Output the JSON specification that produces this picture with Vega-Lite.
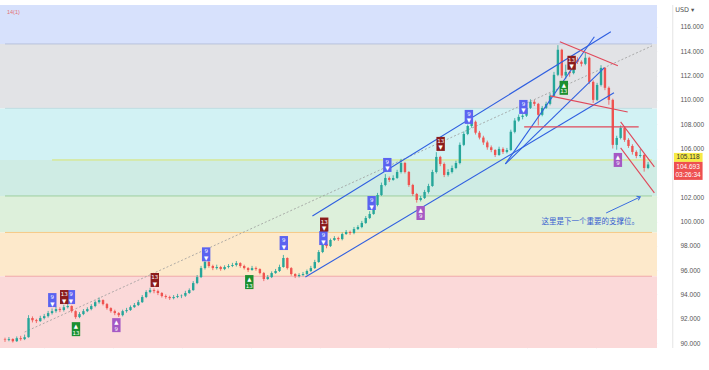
{
  "$schema": "https://vega.github.io/schema/vega-lite/v6.json",
  "width": 657,
  "height": 343,
  "autosize": "none",
  "padding": {"left": 0, "top": 5, "right": 52, "bottom": 22},
  "background": "white",
  "config": {"view": {"stroke": null}, "font": "Liberation Sans", "axis": {"labelOverlap": false, "labelBound": false}},
  "resolve": {"scale": {"color": "independent"}},
  "datasets": {
    "bands": [
      {"lo": 114.6, "hi": 117.8, "z": "a"},
      {"lo": 109.3, "hi": 114.6, "z": "b"},
      {"lo": 105.06, "hi": 109.3, "z": "c"},
      {"lo": 102.1, "hi": 105.06, "z": "d"},
      {"lo": 99.1, "hi": 102.1, "z": "e"},
      {"lo": 95.5, "hi": 99.1, "z": "f"},
      {"lo": 89.6, "hi": 95.5, "z": "g"}
    ],
    "fib": [
      {"v": 114.6, "z": "a", "s": 0},
      {"v": 109.3, "z": "b", "s": 0},
      {"v": 105.06, "z": "c", "s": 12},
      {"v": 102.1, "z": "d", "s": 0},
      {"v": 99.1, "z": "e", "s": 0},
      {"v": 95.5, "z": "f", "s": 0}
    ],
    "candles": [
      {"t":0,"o":90.30,"h":90.45,"l":90.10,"c":90.25},
      {"t":1,"o":90.25,"h":90.50,"l":90.15,"c":90.33},
      {"t":2,"o":90.33,"h":90.40,"l":90.05,"c":90.16},
      {"t":3,"o":90.16,"h":90.55,"l":90.10,"c":90.41},
      {"t":4,"o":90.41,"h":90.60,"l":90.20,"c":90.33},
      {"t":5,"o":90.33,"h":90.70,"l":90.25,"c":90.49},
      {"t":6,"o":90.49,"h":92.30,"l":90.45,"c":92.06},
      {"t":7,"o":92.06,"h":92.20,"l":91.70,"c":91.89},
      {"t":8,"o":91.89,"h":92.00,"l":91.65,"c":91.81},
      {"t":9,"o":91.81,"h":92.25,"l":91.75,"c":92.06},
      {"t":10,"o":92.06,"h":92.40,"l":91.95,"c":92.22},
      {"t":11,"o":92.22,"h":92.65,"l":92.10,"c":92.47},
      {"t":12,"o":92.47,"h":92.85,"l":92.35,"c":92.63},
      {"t":13,"o":92.63,"h":93.00,"l":92.50,"c":92.80},
      {"t":14,"o":92.80,"h":92.95,"l":92.55,"c":92.72},
      {"t":15,"o":92.72,"h":93.15,"l":92.60,"c":92.96},
      {"t":16,"o":92.96,"h":93.25,"l":92.85,"c":93.05},
      {"t":17,"o":93.05,"h":93.10,"l":92.50,"c":92.63},
      {"t":18,"o":92.63,"h":92.70,"l":92.00,"c":92.14},
      {"t":19,"o":92.14,"h":92.55,"l":92.05,"c":92.39},
      {"t":20,"o":92.39,"h":92.80,"l":92.30,"c":92.63},
      {"t":21,"o":92.63,"h":92.95,"l":92.55,"c":92.80},
      {"t":22,"o":92.80,"h":93.20,"l":92.70,"c":93.05},
      {"t":23,"o":93.05,"h":93.50,"l":92.95,"c":93.37},
      {"t":24,"o":93.37,"h":93.75,"l":93.25,"c":93.54},
      {"t":25,"o":93.54,"h":93.60,"l":93.10,"c":93.21},
      {"t":26,"o":93.21,"h":93.30,"l":92.75,"c":92.88},
      {"t":27,"o":92.88,"h":92.95,"l":92.50,"c":92.63},
      {"t":28,"o":92.63,"h":92.75,"l":92.30,"c":92.47},
      {"t":29,"o":92.47,"h":92.55,"l":92.15,"c":92.30},
      {"t":30,"o":92.30,"h":92.75,"l":92.20,"c":92.63},
      {"t":31,"o":92.63,"h":92.90,"l":92.50,"c":92.72},
      {"t":32,"o":92.72,"h":93.10,"l":92.65,"c":92.96},
      {"t":33,"o":92.96,"h":93.30,"l":92.90,"c":93.13},
      {"t":34,"o":93.13,"h":93.55,"l":93.05,"c":93.37},
      {"t":35,"o":93.37,"h":93.95,"l":93.30,"c":93.79},
      {"t":36,"o":93.79,"h":94.35,"l":93.70,"c":94.20},
      {"t":37,"o":94.20,"h":94.55,"l":94.10,"c":94.36},
      {"t":38,"o":94.36,"h":94.50,"l":94.10,"c":94.28},
      {"t":39,"o":94.28,"h":94.40,"l":93.95,"c":94.12},
      {"t":40,"o":94.12,"h":94.20,"l":93.75,"c":93.87},
      {"t":41,"o":93.87,"h":94.00,"l":93.65,"c":93.79},
      {"t":42,"o":93.79,"h":93.90,"l":93.55,"c":93.70},
      {"t":43,"o":93.70,"h":93.95,"l":93.60,"c":93.79},
      {"t":44,"o":93.79,"h":94.05,"l":93.70,"c":93.87},
      {"t":45,"o":93.87,"h":94.00,"l":93.70,"c":93.90},
      {"t":46,"o":93.90,"h":94.30,"l":93.80,"c":94.12},
      {"t":47,"o":94.12,"h":94.50,"l":94.05,"c":94.36},
      {"t":48,"o":94.36,"h":95.10,"l":94.30,"c":94.94},
      {"t":49,"o":94.94,"h":95.60,"l":94.85,"c":95.43},
      {"t":50,"o":95.43,"h":96.35,"l":95.35,"c":96.17},
      {"t":51,"o":96.17,"h":96.95,"l":96.05,"c":96.67},
      {"t":52,"o":96.67,"h":96.75,"l":96.20,"c":96.34},
      {"t":53,"o":96.34,"h":96.45,"l":96.00,"c":96.17},
      {"t":54,"o":96.17,"h":96.45,"l":96.05,"c":96.26},
      {"t":55,"o":96.26,"h":96.35,"l":95.95,"c":96.09},
      {"t":56,"o":96.09,"h":96.40,"l":96.00,"c":96.26},
      {"t":57,"o":96.26,"h":96.50,"l":96.15,"c":96.34},
      {"t":58,"o":96.34,"h":96.60,"l":96.25,"c":96.42},
      {"t":59,"o":96.42,"h":96.75,"l":96.30,"c":96.58},
      {"t":60,"o":96.58,"h":96.65,"l":96.20,"c":96.34},
      {"t":61,"o":96.34,"h":96.45,"l":96.05,"c":96.17},
      {"t":62,"o":96.17,"h":96.25,"l":95.85,"c":96.01},
      {"t":63,"o":96.01,"h":96.35,"l":95.95,"c":96.17},
      {"t":64,"o":96.17,"h":96.30,"l":95.95,"c":96.09},
      {"t":65,"o":96.09,"h":96.15,"l":95.65,"c":95.76},
      {"t":66,"o":95.76,"h":95.85,"l":95.10,"c":95.27},
      {"t":67,"o":95.27,"h":95.60,"l":95.20,"c":95.43},
      {"t":68,"o":95.43,"h":95.90,"l":95.35,"c":95.76},
      {"t":69,"o":95.76,"h":96.10,"l":95.70,"c":95.93},
      {"t":70,"o":95.93,"h":96.45,"l":95.85,"c":96.26},
      {"t":71,"o":96.26,"h":97.25,"l":96.20,"c":97.00},
      {"t":72,"o":97.00,"h":97.05,"l":96.05,"c":96.17},
      {"t":73,"o":96.17,"h":96.25,"l":95.55,"c":95.68},
      {"t":74,"o":95.68,"h":95.75,"l":95.35,"c":95.51},
      {"t":75,"o":95.51,"h":95.75,"l":95.40,"c":95.60},
      {"t":76,"o":95.60,"h":95.85,"l":95.50,"c":95.68},
      {"t":77,"o":95.68,"h":96.05,"l":95.60,"c":95.93},
      {"t":78,"o":95.93,"h":96.35,"l":95.85,"c":96.17},
      {"t":79,"o":96.17,"h":96.85,"l":96.10,"c":96.67},
      {"t":80,"o":96.67,"h":97.65,"l":96.60,"c":97.49},
      {"t":81,"o":97.49,"h":98.30,"l":97.40,"c":98.15},
      {"t":82,"o":98.15,"h":98.25,"l":97.80,"c":97.98},
      {"t":83,"o":97.98,"h":98.60,"l":97.90,"c":98.48},
      {"t":84,"o":98.48,"h":98.80,"l":98.40,"c":98.64},
      {"t":85,"o":98.64,"h":98.75,"l":98.40,"c":98.55},
      {"t":86,"o":98.55,"h":99.10,"l":98.45,"c":98.97},
      {"t":87,"o":98.97,"h":99.30,"l":98.90,"c":99.14},
      {"t":88,"o":99.14,"h":99.25,"l":98.90,"c":99.05},
      {"t":89,"o":99.05,"h":99.55,"l":98.95,"c":99.38},
      {"t":90,"o":99.38,"h":99.70,"l":99.30,"c":99.55},
      {"t":91,"o":99.55,"h":100.05,"l":99.45,"c":99.88},
      {"t":92,"o":99.88,"h":100.45,"l":99.80,"c":100.29},
      {"t":93,"o":100.29,"h":100.85,"l":100.20,"c":100.62},
      {"t":94,"o":100.62,"h":101.55,"l":100.55,"c":101.36},
      {"t":95,"o":101.36,"h":102.35,"l":101.25,"c":102.18},
      {"t":96,"o":102.18,"h":103.20,"l":102.10,"c":103.00},
      {"t":97,"o":103.00,"h":103.90,"l":102.90,"c":103.58},
      {"t":98,"o":103.58,"h":103.70,"l":103.25,"c":103.42},
      {"t":99,"o":103.42,"h":103.80,"l":103.35,"c":103.58},
      {"t":100,"o":103.58,"h":104.25,"l":103.50,"c":104.07},
      {"t":101,"o":104.07,"h":105.15,"l":103.95,"c":104.81},
      {"t":102,"o":104.81,"h":104.90,"l":103.95,"c":104.07},
      {"t":103,"o":104.07,"h":104.15,"l":102.85,"c":103.00},
      {"t":104,"o":103.00,"h":103.10,"l":102.10,"c":102.26},
      {"t":105,"o":102.26,"h":102.35,"l":101.55,"c":101.77},
      {"t":106,"o":101.77,"h":102.10,"l":101.65,"c":101.93},
      {"t":107,"o":101.93,"h":102.60,"l":101.85,"c":102.43},
      {"t":108,"o":102.43,"h":103.10,"l":102.30,"c":102.92},
      {"t":109,"o":102.92,"h":104.25,"l":102.85,"c":104.07},
      {"t":110,"o":104.07,"h":105.70,"l":103.95,"c":105.31},
      {"t":111,"o":105.31,"h":105.40,"l":104.55,"c":104.73},
      {"t":112,"o":104.73,"h":104.85,"l":103.65,"c":103.83},
      {"t":113,"o":103.83,"h":104.30,"l":103.70,"c":104.07},
      {"t":114,"o":104.07,"h":104.60,"l":103.95,"c":104.40},
      {"t":115,"o":104.40,"h":105.00,"l":104.30,"c":104.81},
      {"t":116,"o":104.81,"h":106.50,"l":104.70,"c":106.30},
      {"t":117,"o":106.30,"h":107.40,"l":106.20,"c":107.20},
      {"t":118,"o":107.20,"h":107.98,"l":107.10,"c":107.85},
      {"t":119,"o":107.85,"h":108.75,"l":107.70,"c":108.20},
      {"t":120,"o":108.20,"h":108.30,"l":107.15,"c":107.30},
      {"t":121,"o":107.30,"h":107.45,"l":106.75,"c":106.90},
      {"t":122,"o":106.90,"h":107.05,"l":106.30,"c":106.50},
      {"t":123,"o":106.50,"h":106.65,"l":105.90,"c":106.10},
      {"t":124,"o":106.10,"h":106.25,"l":105.70,"c":105.88},
      {"t":125,"o":105.88,"h":105.95,"l":105.30,"c":105.47},
      {"t":126,"o":105.47,"h":106.15,"l":105.40,"c":105.97},
      {"t":127,"o":105.97,"h":106.10,"l":105.55,"c":105.72},
      {"t":128,"o":105.72,"h":106.05,"l":105.60,"c":105.88},
      {"t":129,"o":105.88,"h":107.55,"l":105.80,"c":107.37},
      {"t":130,"o":107.37,"h":108.50,"l":107.25,"c":108.30},
      {"t":131,"o":108.30,"h":108.80,"l":108.20,"c":108.60},
      {"t":132,"o":108.60,"h":108.82,"l":108.40,"c":108.70},
      {"t":133,"o":108.70,"h":109.55,"l":108.60,"c":109.34},
      {"t":134,"o":109.34,"h":110.05,"l":109.25,"c":109.84},
      {"t":135,"o":109.84,"h":110.00,"l":109.50,"c":109.67},
      {"t":136,"o":109.67,"h":109.75,"l":107.90,"c":108.77},
      {"t":137,"o":108.77,"h":109.50,"l":108.65,"c":109.34},
      {"t":138,"o":109.34,"h":109.85,"l":109.25,"c":109.67},
      {"t":139,"o":109.67,"h":110.55,"l":109.55,"c":110.33},
      {"t":140,"o":110.33,"h":112.30,"l":110.25,"c":112.06},
      {"t":141,"o":112.06,"h":114.50,"l":111.95,"c":114.12},
      {"t":142,"o":114.12,"h":114.20,"l":111.80,"c":112.00},
      {"t":143,"o":112.00,"h":112.90,"l":111.70,"c":112.30},
      {"t":144,"o":112.30,"h":112.40,"l":111.90,"c":112.20},
      {"t":145,"o":112.20,"h":113.50,"l":112.10,"c":113.30},
      {"t":146,"o":113.30,"h":113.50,"l":112.95,"c":113.13},
      {"t":147,"o":113.13,"h":113.25,"l":112.75,"c":112.96},
      {"t":148,"o":112.96,"h":113.90,"l":112.85,"c":113.46},
      {"t":149,"o":113.46,"h":113.55,"l":111.30,"c":111.48},
      {"t":150,"o":111.48,"h":111.60,"l":109.75,"c":110.00},
      {"t":151,"o":110.00,"h":111.40,"l":109.90,"c":111.23},
      {"t":152,"o":111.23,"h":112.85,"l":111.10,"c":112.63},
      {"t":153,"o":112.63,"h":112.70,"l":110.80,"c":110.99},
      {"t":154,"o":110.99,"h":111.10,"l":109.60,"c":110.00},
      {"t":155,"o":110.00,"h":110.10,"l":106.00,"c":106.30},
      {"t":156,"o":106.30,"h":107.05,"l":105.90,"c":106.87},
      {"t":157,"o":106.87,"h":107.90,"l":106.75,"c":107.70},
      {"t":158,"o":107.70,"h":107.80,"l":106.55,"c":106.71},
      {"t":159,"o":106.71,"h":106.85,"l":106.05,"c":106.21},
      {"t":160,"o":106.21,"h":106.35,"l":105.50,"c":105.72},
      {"t":161,"o":105.72,"h":105.85,"l":105.20,"c":105.39},
      {"t":162,"o":105.39,"h":105.95,"l":105.25,"c":105.47},
      {"t":163,"o":105.47,"h":105.55,"l":104.10,"c":104.40},
      {"t":164,"o":104.40,"h":104.90,"l":104.30,"c":104.69}
    ],
    "markers": [
      {"t": 12.06, "v": 93.54, "k": "b9", "a": "9", "b": "▼"},
      {"t": 16.8, "v": 93.79, "k": "b9", "a": "9", "b": "▼"},
      {"t": 51.3, "v": 97.3, "k": "b9", "a": "9", "b": "▼"},
      {"t": 71.1, "v": 98.23, "k": "b9", "a": "9", "b": "▼"},
      {"t": 81.2, "v": 98.64, "k": "b9", "a": "9", "b": "▼"},
      {"t": 93.5, "v": 101.52, "k": "b9", "a": "9", "b": "▼"},
      {"t": 97.5, "v": 104.65, "k": "b9", "a": "9", "b": "▼"},
      {"t": 118.3, "v": 108.6, "k": "b9", "a": "9", "b": "▼"},
      {"t": 132.2, "v": 109.42, "k": "b9", "a": "9", "b": "▼"},
      {"t": 15.1, "v": 93.79, "k": "r13", "a": "13", "b": "▼"},
      {"t": 38.2, "v": 95.19, "k": "r13", "a": "13", "b": "▼"},
      {"t": 81.4, "v": 99.75, "k": "r13", "a": "13", "b": "▼"},
      {"t": 111.1, "v": 106.38, "k": "r13", "a": "13", "b": "▼"},
      {"t": 144.5, "v": 113.05, "k": "r13", "a": "13", "b": "▼"},
      {"t": 18.1, "v": 91.15, "k": "g13", "a": "▲", "b": "13"},
      {"t": 62.3, "v": 95.02, "k": "g13", "a": "▲", "b": "13"},
      {"t": 142.5, "v": 110.99, "k": "g13", "a": "▲", "b": "13"},
      {"t": 28.4, "v": 91.48, "k": "p9", "a": "▲", "b": "9"},
      {"t": 106, "v": 100.7, "k": "p9", "a": "▲", "b": "9"},
      {"t": 156.3, "v": 105.06, "k": "p9", "a": "▲", "b": "9"}
    ],
    "blue": [
      {"id": "u", "t": 78.4, "v": 100.45}, {"id": "u", "t": 154.5, "v": 115.6},
      {"id": "d", "t": 76.6, "v": 95.43}, {"id": "d", "t": 155.3, "v": 110.58},
      {"id": "s1", "t": 127.6, "v": 104.73}, {"id": "s1", "t": 150.3, "v": 115.19},
      {"id": "s2", "t": 127.6, "v": 104.73}, {"id": "s2", "t": 152.8, "v": 112.63}
    ],
    "red": [
      {"id": "r1", "t": 141.5, "v": 114.77}, {"id": "r1", "t": 156.3, "v": 112.8},
      {"id": "r2", "t": 139, "v": 110.33}, {"id": "r2", "t": 158.8, "v": 109.01},
      {"id": "r3", "t": 132.4, "v": 107.78}, {"id": "r3", "t": 161.6, "v": 107.78},
      {"id": "r4", "t": 157, "v": 108.19}, {"id": "r4", "t": 165.6, "v": 104.49},
      {"id": "r5", "t": 157, "v": 106.05}, {"id": "r5", "t": 165.6, "v": 102.35}
    ],
    "trend": [
      {"t": 5, "v": 90.91}, {"t": 165, "v": 114.44}
    ],
    "arrow": [
      {"t": 153.3, "v": 100.7}, {"t": 162, "v": 102.02}
    ],
    "arrowhead": [{"t": 162, "v": 102.02}],
    "note": [{"t": 136.8, "v": 100.0, "s": "这里是下一个重要的支撑位。"}],
    "boxes": [
      {"x1": 170.6, "x2": 177.9, "lo": 104.9, "hi": 105.64, "k": "y"},
      {"x1": 170.6, "x2": 177.9, "lo": 103.42, "hi": 104.9, "k": "r"}
    ],
    "boxtext": [
      {"t": 174.2, "v": 105.27, "s": "105.118", "k": "y"},
      {"t": 174.2, "v": 104.5, "s": "104.693", "k": "r"},
      {"t": 174.2, "v": 103.85, "s": "03:26:34", "k": "r"}
    ],
    "sep": [{"t": 170.3}],
    "usd": [{"t": 170.9, "v": 117.35, "s": "USD ▾"}],
    "tl": [{"t": 0.5, "v": 117.2, "s": "14(1)"}]
  },
  "layer": [
    {
      "data": {"name": "bands"},
      "mark": {"type": "rect"},
      "encoding": {
        "y": {"field": "lo", "type": "quantitative", "scale": {"domain": [89.6, 117.8], "nice": false, "zero": false},
          "axis": {"orient": "right", "values": [90, 92, 94, 96, 98, 100, 102, 106, 108, 110, 112, 114, 116], "tickCount": 30, "format": ".3f", "title": null, "domain": false, "ticks": false, "labelPadding": 23, "labelFontSize": 6.5, "labelColor": "#555555", "labelAlign": "left", "labelOverlap": false, "labelBound": false, "grid": true, "gridColor": "#8090a0", "gridOpacity": 0.08}},
        "y2": {"field": "hi"},
        "color": {"field": "z", "type": "nominal", "legend": null,
          "scale": {"domain": ["a", "b", "c", "d", "e", "f", "g"], "range": ["#d7e1fc", "#e2e3e6", "#d2f2f4", "#cfece4", "#ddf0db", "#fde9cb", "#fbd9d9"]}}
      }
    },
    {
      "data": {"name": "fib"},
      "mark": {"type": "rule", "strokeWidth": 1},
      "encoding": {
        "y": {"field": "v", "type": "quantitative", "scale": {"domain": [89.6, 117.8], "nice": false, "zero": false}, "title": null},
        "x": {"field": "s", "type": "quantitative", "scale": {"domain": [0, 165], "nice": false, "zero": false},
          "axis": {"values": [10, 27.6, 45.2, 62.8, 80.4, 98, 115.6, 133.2, 150.8], "tickCount": 30, "labels": false, "ticks": false, "domain": false, "title": null, "grid": true, "gridColor": "#7080a0", "gridOpacity": 0.1}},
        "x2": {"datum": 165},
        "color": {"field": "z", "type": "nominal", "legend": null,
          "scale": {"domain": ["a", "b", "c", "d", "e", "f"], "range": ["#b9c2dc", "#bfdde2", "#d9e46e", "#9fcf9f", "#f6c885", "#f1a8a8"]}}
      }
    },
    {
      "data": {"name": "trend"},
      "mark": {"type": "line", "color": "#9a9a9a", "strokeWidth": 0.8, "strokeDash": [2, 2]},
      "encoding": {
        "x": {"field": "t", "type": "quantitative", "scale": {"domain": [0, 165]}, "title": null},
        "y": {"field": "v", "type": "quantitative", "scale": {"domain": [89.6, 117.8]}, "title": null}
      }
    },
    {
      "data": {"name": "candles"},
      "layer": [
        {
          "mark": {"type": "rule", "strokeWidth": 0.8},
          "encoding": {
            "x": {"field": "t", "type": "quantitative", "scale": {"domain": [0, 165]}, "title": null},
            "y": {"field": "l", "type": "quantitative", "scale": {"domain": [89.6, 117.8]}, "title": null},
            "y2": {"field": "h"},
            "color": {"condition": {"test": "datum.o <= datum.c", "value": "#26a69a"}, "value": "#ef5350"}
          }
        },
        {
          "mark": {"type": "bar", "size": 2.4},
          "encoding": {
            "x": {"field": "t", "type": "quantitative", "scale": {"domain": [0, 165]}, "title": null},
            "y": {"field": "o", "type": "quantitative", "scale": {"domain": [89.6, 117.8]}, "title": null},
            "y2": {"field": "c"},
            "color": {"condition": {"test": "datum.o <= datum.c", "value": "#26a69a"}, "value": "#ef5350"}
          }
        }
      ]
    },
    {
      "data": {"name": "blue"},
      "mark": {"type": "line", "color": "#2f5fe0", "strokeWidth": 1.1},
      "encoding": {
        "x": {"field": "t", "type": "quantitative", "scale": {"domain": [0, 165]}, "title": null},
        "y": {"field": "v", "type": "quantitative", "scale": {"domain": [89.6, 117.8]}, "title": null},
        "detail": {"field": "id"}
      }
    },
    {
      "data": {"name": "red"},
      "mark": {"type": "line", "color": "#e0485a", "strokeWidth": 1.1},
      "encoding": {
        "x": {"field": "t", "type": "quantitative", "scale": {"domain": [0, 165]}, "title": null},
        "y": {"field": "v", "type": "quantitative", "scale": {"domain": [89.6, 117.8]}, "title": null},
        "detail": {"field": "id"}
      }
    },
    {
      "data": {"name": "arrow"},
      "mark": {"type": "line", "color": "#3a6de0", "strokeWidth": 1},
      "encoding": {
        "x": {"field": "t", "type": "quantitative", "scale": {"domain": [0, 165]}, "title": null},
        "y": {"field": "v", "type": "quantitative", "scale": {"domain": [89.6, 117.8]}, "title": null}
      }
    },
    {
      "data": {"name": "arrowhead"},
      "mark": {"type": "point", "shape": "M-1,-0.7L0,0L-1,0.7", "filled": false, "color": "#3a6de0", "strokeWidth": 1, "size": 40, "angle": 335, "opacity": 1},
      "encoding": {
        "x": {"field": "t", "type": "quantitative", "scale": {"domain": [0, 165]}, "title": null},
        "y": {"field": "v", "type": "quantitative", "scale": {"domain": [89.6, 117.8]}, "title": null}
      }
    },
    {
      "data": {"name": "note"},
      "mark": {"type": "text", "align": "left", "baseline": "middle", "fontSize": 7.5, "color": "#3a5fd0", "font": "Noto Sans CJK SC"},
      "encoding": {
        "x": {"field": "t", "type": "quantitative", "scale": {"domain": [0, 165]}, "title": null},
        "y": {"field": "v", "type": "quantitative", "scale": {"domain": [89.6, 117.8]}, "title": null},
        "text": {"field": "s"}
      }
    },
    {
      "data": {"name": "markers"},
      "encoding": {
        "x": {"field": "t", "type": "quantitative", "scale": {"domain": [0, 165]}, "title": null},
        "y": {"field": "v", "type": "quantitative", "scale": {"domain": [89.6, 117.8]}, "title": null}
      },
      "layer": [
        {
          "mark": {"type": "point", "shape": "M-0.6,-1H0.6V1H-0.6Z", "filled": true, "size": 196, "opacity": 1},
          "encoding": {
            "color": {"field": "k", "type": "nominal", "legend": null,
              "scale": {"domain": ["b9", "r13", "g13", "p9"], "range": ["#5b63f0", "#8c1c1c", "#1c8f30", "#a559c4"]}}
          }
        },
        {
          "mark": {"type": "text", "color": "white", "fontSize": 5.5, "dy": -3, "baseline": "middle", "font": "DejaVu Sans"},
          "encoding": {"text": {"field": "a"}}
        },
        {
          "mark": {"type": "text", "color": "white", "fontSize": 5.5, "dy": 3.5, "baseline": "middle", "font": "DejaVu Sans"},
          "encoding": {"text": {"field": "b"}}
        }
      ]
    },
    {
      "data": {"name": "sep"},
      "mark": {"type": "rule", "color": "#e4e4e4", "strokeWidth": 1},
      "encoding": {
        "x": {"field": "t", "type": "quantitative", "scale": {"domain": [0, 165]}, "title": null}
      }
    },
    {
      "data": {"name": "boxes"},
      "mark": {"type": "rect"},
      "encoding": {
        "x": {"field": "x1", "type": "quantitative", "scale": {"domain": [0, 165]}, "title": null},
        "x2": {"field": "x2"},
        "y": {"field": "lo", "type": "quantitative", "scale": {"domain": [89.6, 117.8]}, "title": null},
        "y2": {"field": "hi"},
        "color": {"field": "k", "type": "nominal", "legend": null, "scale": {"domain": ["y", "r"], "range": ["#f7ea45", "#ee5050"]}}
      }
    },
    {
      "data": {"name": "boxtext"},
      "mark": {"type": "text", "fontSize": 6.5, "baseline": "middle", "align": "center"},
      "encoding": {
        "x": {"field": "t", "type": "quantitative", "scale": {"domain": [0, 165]}, "title": null},
        "y": {"field": "v", "type": "quantitative", "scale": {"domain": [89.6, 117.8]}, "title": null},
        "text": {"field": "s"},
        "color": {"field": "k", "type": "nominal", "legend": null, "scale": {"domain": ["y", "r"], "range": ["#333333", "#ffffff"]}}
      }
    },
    {
      "data": {"name": "usd"},
      "mark": {"type": "text", "fontSize": 6.5, "baseline": "middle", "align": "left", "color": "#555555", "font": "DejaVu Sans"},
      "encoding": {
        "x": {"field": "t", "type": "quantitative", "scale": {"domain": [0, 165]}, "title": null},
        "y": {"field": "v", "type": "quantitative", "scale": {"domain": [89.6, 117.8]}, "title": null},
        "text": {"field": "s"}
      }
    },
    {
      "data": {"name": "tl"},
      "mark": {"type": "text", "fontSize": 5.5, "baseline": "middle", "align": "left", "color": "#e57373"},
      "encoding": {
        "x": {"field": "t", "type": "quantitative", "scale": {"domain": [0, 165]}, "title": null},
        "y": {"field": "v", "type": "quantitative", "scale": {"domain": [89.6, 117.8]}, "title": null},
        "text": {"field": "s"}
      }
    }
  ]
}
